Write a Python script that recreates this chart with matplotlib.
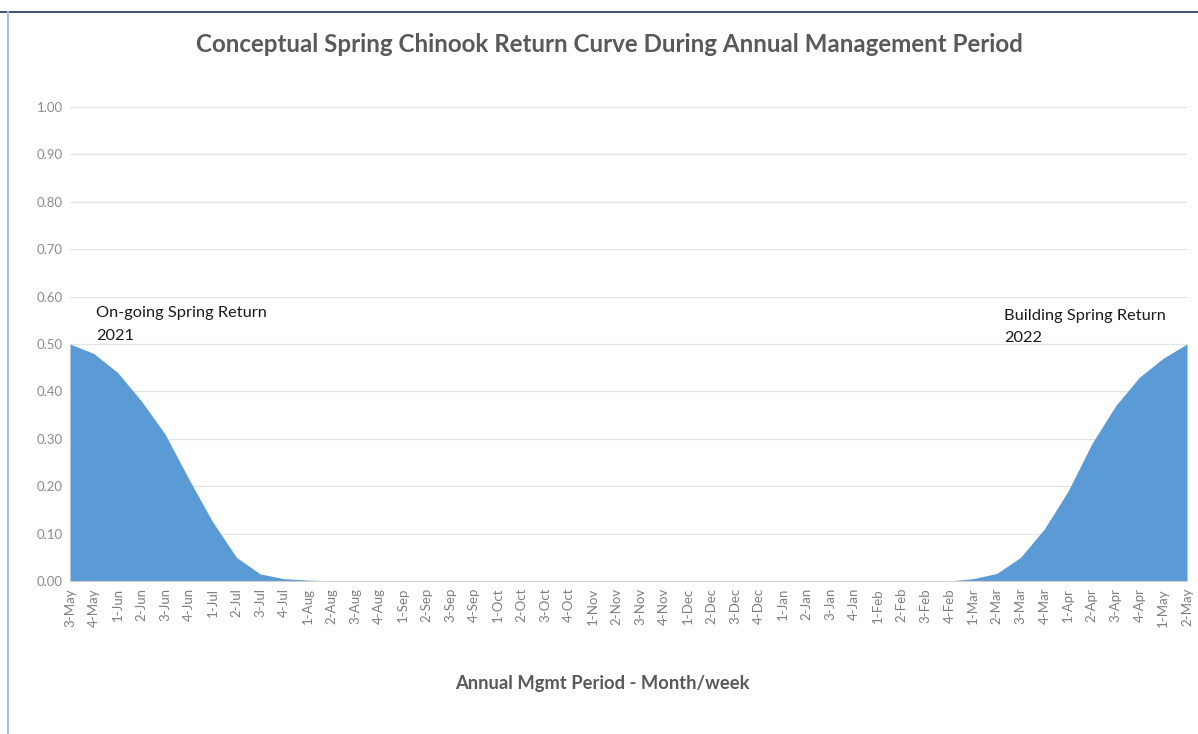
import matplotlib
matplotlib.use("Agg")
import matplotlib.pyplot as plt
from matplotlib.lines import Line2D

plt.rcParams['font.family'] = ['Lato', 'DejaVu Sans']

weeks = ["3-May", "4-May", "1-Jun", "2-Jun", "3-Jun", "4-Jun", "1-Jul", "2-Jul", "3-Jul", "4-Jul",
         "1-Aug", "2-Aug", "3-Aug", "4-Aug", "1-Sep", "2-Sep", "3-Sep", "4-Sep", "1-Oct", "2-Oct",
         "3-Oct", "4-Oct", "1-Nov", "2-Nov", "3-Nov", "4-Nov", "1-Dec", "2-Dec", "3-Dec", "4-Dec",
         "1-Jan", "2-Jan", "3-Jan", "4-Jan", "1-Feb", "2-Feb", "3-Feb", "4-Feb", "1-Mar", "2-Mar",
         "3-Mar", "4-Mar", "1-Apr", "2-Apr", "3-Apr", "4-Apr", "1-May", "2-May"]

ongoing_2021 = [0.50, 0.48, 0.44, 0.38, 0.31, 0.215, 0.125, 0.05, 0.015, 0.005, 0.002, 0.0]
building_2022 = [0.0, 0.005, 0.016, 0.05, 0.11, 0.19, 0.29, 0.37, 0.43, 0.47, 0.50]

n = len(weeks)
values = ongoing_2021 + [0.0] * (n - len(ongoing_2021) - len(building_2022)) + building_2022
x = list(range(n))

W, H = 1198, 734
fig = plt.figure(figsize=(W / 100, H / 100), dpi=100)
ax = fig.add_axes([70 / W, (H - 581) / H, (1187 - 70) / W, (581 - 107) / H])

ax.fill_between(x, values, 0, color="#5b9bd5", linewidth=0)
ax.set_xlim(0, n - 1)
ax.set_ylim(0, 1.0)

yt = [i / 10 for i in range(11)]
ax.set_yticks(yt)
ax.set_yticklabels([f"{v:.2f}" for v in yt], fontsize=9.5, color="#8c8c8c")
ax.set_xticks(x)
ax.set_xticklabels(weeks, rotation=90, fontsize=9.5, color="#7f7f7f")
ax.tick_params(axis="both", length=0, pad=5)
ax.tick_params(axis="y", pad=5)

for v in yt[1:]:
    ax.axhline(v, color="#e3e3e3", linewidth=0.9, zorder=0)
for s in ["top", "right", "left"]:
    ax.spines[s].set_visible(False)
ax.spines["bottom"].set_color("#d0d0d0")
ax.set_axisbelow(True)

ax.text(1.1, 0.503, "On-going Spring Return\n2021", fontsize=11.8, color="#1a1a1a",
        va="bottom", ha="left", linespacing=1.8)
ax.text(39.3, 0.497, "Building Spring Return\n2022", fontsize=11.8, color="#1a1a1a",
        va="bottom", ha="left", linespacing=1.8)

fig.text(609 / W, 1 - 45 / H, "Conceptual Spring Chinook Return Curve During Annual Management Period",
         fontsize=17.4, fontweight="bold", color="#595959", ha="center", va="center")
fig.text(602 / W, 1 - 683 / H, "Annual Mgmt Period - Month/week",
         fontsize=13.2, fontweight="bold", color="#595959", ha="center", va="center")

fig.add_artist(Line2D([0, 1], [1 - 12 / H, 1 - 12 / H], transform=fig.transFigure, color="#1f3350", linewidth=1.2))
fig.add_artist(Line2D([7.5 / W, 7.5 / W], [0, 1 - 12 / H], transform=fig.transFigure, color="#9dc3e6", linewidth=1.5))

fig.savefig("out.png", dpi=100)
